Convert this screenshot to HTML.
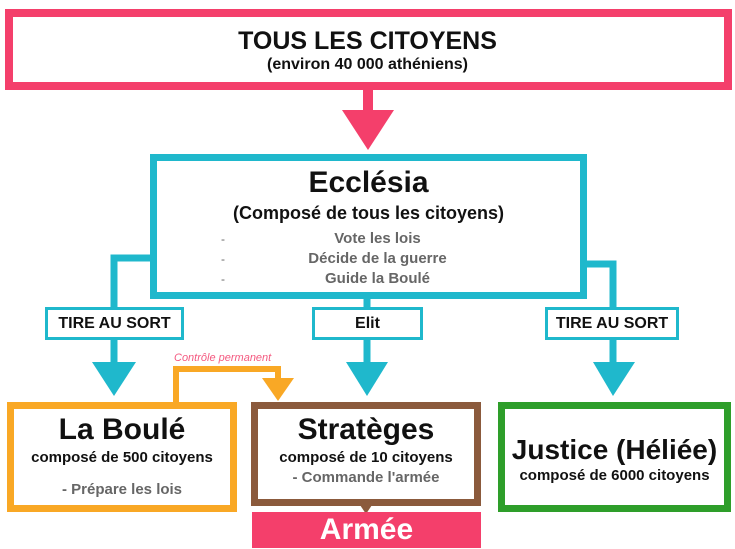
<!DOCTYPE html>
<html><head><meta charset="utf-8"><style>
body{margin:0;width:735px;height:549px;background:#fff;position:relative;overflow:hidden;font-family:"Liberation Sans",sans-serif;font-weight:bold}
.a{position:absolute;box-sizing:border-box}
.t{position:absolute;left:0;right:0;text-align:center;white-space:nowrap}
.tab{border:3px solid #1fb8cc;background:#fff;font-size:16px;color:#111;text-align:center;line-height:27px}
</style></head><body>
<svg class="a" style="left:0;top:0" width="735" height="549">
<!-- pink arrow -->
<rect x="363" y="88" width="10" height="26" fill="#f43f6b"/>
<polygon points="342,110 394,110 368,150" fill="#f43f6b"/>
<!-- teal connectors -->
<g fill="none" stroke="#1fb8cc" stroke-width="7">
<polyline points="152,258 114,258 114,308"/>
<polyline points="584,264 613,264 613,308"/>
<line x1="367" y1="298" x2="367" y2="308"/>
<line x1="114" y1="340" x2="114" y2="365"/>
<line x1="367" y1="340" x2="367" y2="365"/>
<line x1="613" y1="340" x2="613" y2="365"/>
</g>
<g fill="#1fb8cc">
<polygon points="92,362 136,362 114,396"/>
<polygon points="346,362 388,362 367,396"/>
<polygon points="593,362 635,362 613,396"/>
</g>
<!-- orange control -->
<polyline points="176,402 176,369 278,369 278,382" fill="none" stroke="#f9a825" stroke-width="6"/>
<polygon points="262,378 294,378 278,401" fill="#f9a825"/>
<!-- brown small connector -->
<polygon points="360,505 372,505 366,514" fill="#8b5a3c"/>
</svg>
<div class="a" style="left:5px;top:9px;width:727px;height:81px;border:8px solid #f43f6b"></div>
<div class="t" style="top:27px;font-size:25px;color:#111">TOUS LES CITOYENS</div>
<div class="t" style="top:56px;font-size:16px;color:#111">(environ 40 000 athéniens)</div>

<div class="a" style="left:150px;top:154px;width:437px;height:145px;border:7px solid #1fb8cc"></div>
<div class="t" style="left:150px;width:437px;top:166px;font-size:30px;color:#111">Ecclésia</div>
<div class="t" style="left:150px;width:437px;top:203px;font-size:18px;color:#111">(Composé de tous les citoyens)</div>
<div class="t" style="left:150px;width:455px;top:229px;font-size:15px;color:#666;line-height:20px">Vote les lois<br>Décide de la guerre<br>Guide la Boulé</div>
<div class="a" style="left:221px;top:229px;font-size:12px;color:#666;line-height:20px;font-weight:normal">-<br>-<br>-</div>

<div class="a tab" style="left:45px;top:307px;width:139px;height:33px">TIRE AU SORT</div>
<div class="a tab" style="left:312px;top:307px;width:111px;height:33px">Elit</div>
<div class="a tab" style="left:545px;top:307px;width:134px;height:33px">TIRE AU SORT</div>

<div class="a" style="left:174px;top:352px;font-size:11px;color:#f45a80;font-style:italic;font-weight:normal">Contrôle permanent</div>

<div class="a" style="left:7px;top:402px;width:230px;height:110px;border:7px solid #f9a825"></div>
<div class="t" style="left:7px;width:230px;top:413px;font-size:30px;color:#111">La Boulé</div>
<div class="t" style="left:7px;width:230px;top:449px;font-size:15px;color:#111">composé de 500 citoyens</div>
<div class="t" style="left:7px;width:230px;top:481px;font-size:15px;color:#666">- Prépare les lois</div>

<div class="a" style="left:251px;top:402px;width:230px;height:104px;border:7px solid #8b5a3c"></div>
<div class="t" style="left:251px;width:230px;top:413px;font-size:30px;color:#111">Stratèges</div>
<div class="t" style="left:251px;width:230px;top:449px;font-size:15px;color:#111">composé de 10 citoyens</div>
<div class="t" style="left:251px;width:230px;top:469px;font-size:15px;color:#666">- Commande l'armée</div>

<div class="a" style="left:498px;top:402px;width:233px;height:110px;border:7px solid #2e9e2a"></div>
<div class="t" style="left:498px;width:233px;top:434px;font-size:28px;color:#111">Justice (Héliée)</div>
<div class="t" style="left:498px;width:233px;top:467px;font-size:15px;color:#111">composé de 6000 citoyens</div>

<div class="a" style="left:252px;top:512px;width:229px;height:36px;background:#f43f6b"></div>
<div class="t" style="left:252px;width:229px;top:512px;font-size:30px;color:#fff;line-height:36px">Armée</div>
</body></html>
